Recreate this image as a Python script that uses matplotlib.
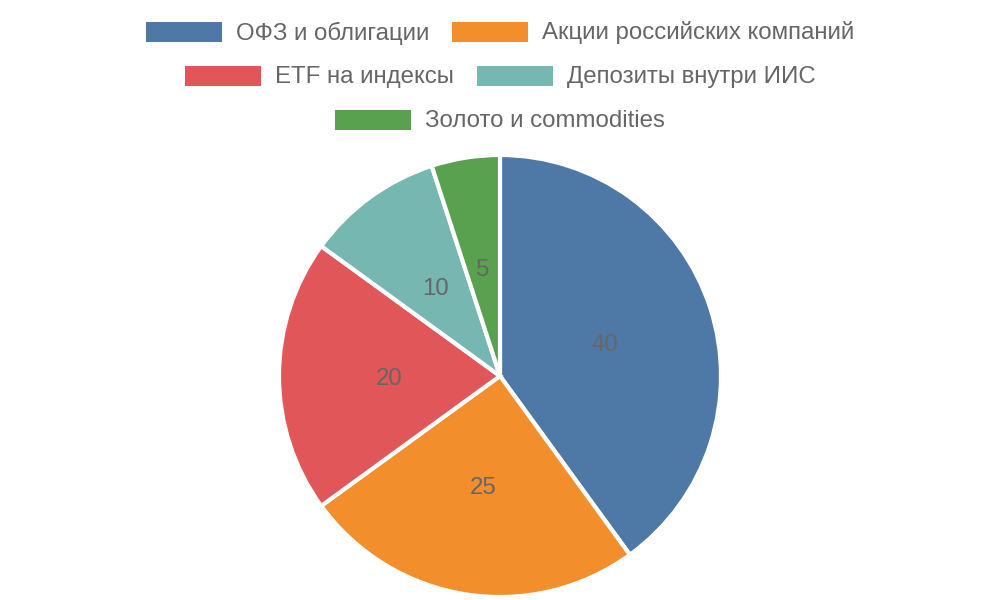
import matplotlib.pyplot as plt
from matplotlib.patches import Rectangle

plt.rcParams['font.family'] = ['Liberation Sans', 'DejaVu Sans']

categories = ['ОФЗ и облигации', 'Акции российских компаний', 'ETF на индексы',
              'Депозиты внутри ИИС', 'Золото и commodities']
values = [40, 25, 20, 10, 5]
colors = ['#4e79a7', '#f28e2b', '#e15759', '#76b7b2', '#59a14f']
legend_rows = [[0, 1], [2, 3], [4]]

W, H = 1000, 600
fs = 17.3
fig = plt.figure(figsize=(10, 6), dpi=100)

# pie, center (500, 376) px, radius ~221 px
r = 221
ax = fig.add_axes([(500 - r) / W, 1 - (376 + r) / H, 2 * r / W, 2 * r / H])
wedges, texts = ax.pie(values, colors=colors, startangle=90, counterclock=False,
                       labels=[str(v) for v in values], labeldistance=0.5,
                       wedgeprops=dict(edgecolor='white', linewidth=3),
                       textprops=dict(color='#666666', fontsize=fs))
for t in texts:
    t.set_horizontalalignment('center')
    x, y = t.get_position()
    t.set_position((x, y - 0.012))
ax.set_aspect('equal')
ax.set_xlim(-1, 1)
ax.set_ylim(-1, 1)

# legend drawn by hand: centred rows
renderer = fig.canvas.get_renderer()
box_w, box_h, gap_t, gap_item = 76, 20, 14, 23
row_y = [32, 76, 120]
for row, yc in zip(legend_rows, row_y):
    items = []
    for i in row:
        t = fig.text(0, 0, categories[i], fontsize=fs, color='#666666', va='center')
        tw = t.get_window_extent(renderer).width
        items.append((i, t, tw))
    total = sum(box_w + gap_t + tw for _, _, tw in items) + gap_item * (len(items) - 1)
    x = 500 - total / 2
    for i, t, tw in items:
        fig.patches.append(Rectangle((x / W, 1 - (yc + box_h / 2) / H), box_w / W, box_h / H,
                                     transform=fig.transFigure, facecolor=colors[i],
                                     edgecolor='none'))
        t.set_position(((x + box_w + gap_t) / W, 1 - (yc + 1) / H))
        x += box_w + gap_t + tw + gap_item

fig.savefig('out.png', dpi=100)
